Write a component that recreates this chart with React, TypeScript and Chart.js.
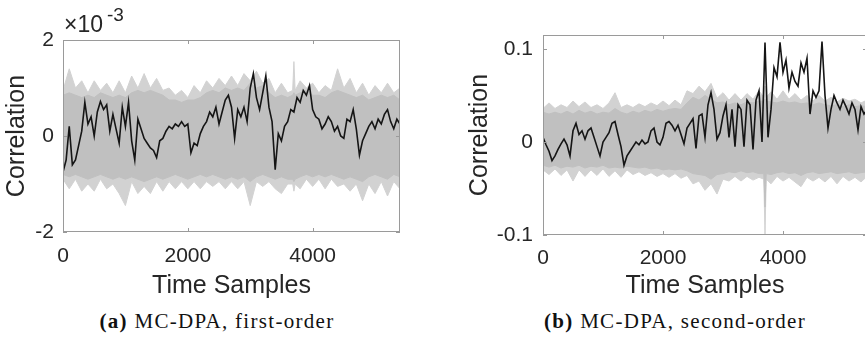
import React, { useEffect, useRef } from "react";
import { Chart, registerables } from "chart.js";

Chart.register(...registerables);

// ---------- data ----------
const timeTicks = [0, 2000, 4000];
const timeTickLabels = ["0", "2000", "4000"];

const bandTime = [
  0, 100, 200, 300, 400, 500, 600, 700, 800, 900,
  1000, 1100, 1200, 1300, 1400, 1500, 1600, 1700, 1800, 1900,
  2000, 2100, 2200, 2300, 2400, 2500, 2600, 2700, 2800, 2900,
  3000, 3100, 3200, 3300, 3400, 3500, 3600,
  3680, 3700, 3720,
  3800, 3900, 4000, 4100, 4200, 4300, 4400, 4500, 4600, 4700,
  4800, 4900, 5000, 5100, 5200, 5300, 5400,
];

const traceTime = [
  0, 50, 100, 150, 200, 250, 300, 350, 400, 450,
  500, 550, 600, 650, 700, 750, 800, 850, 900, 950,
  1000, 1050, 1100, 1150, 1200, 1250, 1300, 1350, 1400, 1450,
  1500, 1550, 1600, 1650, 1700, 1750, 1800, 1850, 1900, 1950,
  2000, 2050, 2100, 2150, 2200, 2250, 2300, 2350, 2400, 2450,
  2500, 2550, 2600, 2650, 2700, 2750, 2800, 2850, 2900, 2950,
  3000, 3050, 3100, 3150, 3200, 3250, 3300, 3350, 3400, 3450,
  3500, 3550, 3600, 3650, 3700, 3750, 3800, 3850, 3900, 3950,
  4000, 4050, 4100, 4150, 4200, 4250, 4300, 4350, 4400, 4450,
  4500, 4550, 4600, 4650, 4700, 4750, 4800, 4850, 4900, 4950,
  5000, 5050, 5100, 5150, 5200, 5250, 5300, 5350, 5400,
];

// (a) first-order, values in units of 1e-3
const firstYTicks = [-2, 0, 2];
const firstYTickLabels = ["-2", "0", "2"];

const firstOuterUpper = [
  0.95, 1.4, 1.0, 1.15, 0.9, 1.15, 0.95, 1.1, 0.9, 1.15,
  0.9, 1.25, 1.0, 1.3, 1.0, 1.2, 0.95, 1.0, 0.85, 0.95,
  0.8, 1.05, 0.9, 1.15, 1.0, 1.2, 1.05, 1.25, 1.05, 1.3,
  1.15, 1.35, 1.1, 1.2, 0.9, 1.1, 0.9,
  0.95, 1.55, 0.95,
  1.15, 1.0, 1.1, 0.9, 1.05, 0.95, 1.4, 1.0, 1.2, 0.9,
  1.1, 0.85, 1.05, 0.9, 1.1, 0.9, 1.0,
];
const firstInnerUpper = [
  0.85, 0.9, 0.85, 0.8, 0.85, 0.8, 0.9, 0.85, 0.8, 0.85,
  0.8, 0.9, 0.95, 0.9, 0.95, 0.9, 0.85, 0.75, 0.75, 0.7,
  0.75, 0.75, 0.8, 0.9, 0.95, 0.9, 1.0, 0.95, 1.0, 0.95,
  1.1, 1.0, 1.05, 0.9, 0.8, 0.85, 0.8,
  0.85, 0.9, 0.85,
  0.9, 0.95, 0.85, 0.85, 0.8, 0.9, 0.95, 0.9, 0.85, 0.8,
  0.85, 0.75, 0.8, 0.85, 0.8, 0.85, 0.75,
];
const firstInnerLower = [
  -0.8, -0.85, -0.8, -0.85, -0.9, -0.85, -0.8, -0.85, -0.9, -0.85,
  -0.9, -0.85, -0.9, -0.95, -0.9, -0.85, -0.9, -0.85, -0.8, -0.85,
  -0.9, -0.85, -0.8, -0.85, -0.8, -0.85, -0.9, -0.85, -0.9, -0.85,
  -0.95, -0.85, -0.8, -0.85, -0.9, -0.85, -0.9,
  -0.9, -0.95, -0.9,
  -0.85, -0.8, -0.85, -0.8, -0.85, -0.8, -0.85, -0.9, -0.85, -0.9,
  -0.95, -0.85, -0.8, -0.85, -0.9, -0.8, -0.85,
];
const firstOuterLower = [
  -0.9, -1.1, -0.9, -1.15, -1.0, -1.15, -0.9, -1.1, -1.0, -1.2,
  -1.45, -0.95, -1.2, -1.05, -1.2, -0.95, -1.15, -0.95, -1.1, -0.95,
  -1.1, -0.95, -1.1, -0.95, -1.05, -0.95, -1.1, -0.95, -1.1, -0.95,
  -1.45, -0.95, -1.05, -0.95, -1.1, -1.2, -1.0,
  -1.0, -1.15, -1.0,
  -1.1, -0.9, -1.05, -0.9, -1.1, -0.9, -1.05, -1.0, -1.15, -1.0,
  -1.35, -1.0, -1.2, -0.95, -1.25, -0.95, -1.1,
];
const firstTrace = [
  -0.75, -0.5, 0.2, -0.6, -0.5, -0.2, 0.1, 0.7, 0.25, 0.4,
  0.0, 0.5, 0.72, 0.55, 0.65, 0.1, 0.45, 0.15, -0.15, 0.6,
  0.2, 0.7, -0.1, -0.5, 0.35, 0.15, -0.05, -0.15, -0.25, -0.3,
  -0.45, -0.1, -0.05, 0.1, 0.2, 0.15, 0.25, 0.2, 0.3, 0.2,
  0.25, -0.35, -0.15, -0.2, 0.05, 0.2, 0.3, 0.5, 0.4, 0.6,
  0.25, 0.5, 0.75, 0.85, 0.6, -0.05, 0.55, 0.4, 0.6, 0.3,
  1.0, 1.3, 0.8, 0.55, 0.9, 1.25, 0.6, 0.3, -0.7, 0.05,
  -0.1, 0.2, 0.3, 0.55, 0.5, 0.8, 0.7, 0.95, 0.85, 1.05,
  0.55, 0.4, 0.35, 0.15, 0.25, 0.4, 0.3, 0.1, 0.2, 0.0,
  -0.05, 0.35, 0.3, 0.55, 0.15, -0.4, -0.1, 0.05, 0.2, 0.3,
  0.15, 0.35, 0.25, 0.45, 0.55, 0.3, 0.15, 0.35, 0.25,
];

// (b) second-order
const secondYTicks = [-0.1, 0, 0.1];
const secondYTickLabels = ["-0.1", "0", "0.1"];

const secondOuterUpper = [
  0.036, 0.042, 0.036, 0.04, 0.037, 0.044, 0.038, 0.043, 0.037, 0.04,
  0.036, 0.042, 0.053, 0.037, 0.04, 0.037, 0.041, 0.038, 0.042, 0.039,
  0.044, 0.039, 0.045, 0.04, 0.055, 0.052, 0.06, 0.054, 0.063, 0.047,
  0.053, 0.045, 0.052, 0.045, 0.052, 0.046, 0.055,
  0.048, 0.06, 0.048,
  0.054, 0.046, 0.055, 0.046, 0.052, 0.045, 0.05, 0.044, 0.05, 0.044,
  0.048, 0.043, 0.047, 0.044, 0.046, 0.042, 0.045,
];
const secondInnerUpper = [
  0.032, 0.03, 0.032, 0.03, 0.033, 0.03, 0.034, 0.031, 0.033, 0.03,
  0.032, 0.031, 0.036, 0.032, 0.03, 0.033, 0.031, 0.034, 0.032, 0.035,
  0.033, 0.035, 0.036, 0.035, 0.042, 0.048, 0.045, 0.05, 0.046, 0.042,
  0.043, 0.04, 0.042, 0.04, 0.043, 0.042, 0.044,
  0.044, 0.046, 0.044,
  0.043, 0.042, 0.044, 0.042, 0.043, 0.041, 0.042, 0.04, 0.042, 0.04,
  0.039, 0.04, 0.038, 0.04, 0.038, 0.039, 0.038,
];
const secondInnerLower = [
  -0.025, -0.027, -0.025, -0.028, -0.026, -0.027, -0.025, -0.028, -0.026, -0.027,
  -0.025, -0.028, -0.027, -0.028, -0.026, -0.027, -0.028, -0.027, -0.029, -0.028,
  -0.03, -0.029, -0.03, -0.029, -0.031, -0.034, -0.035, -0.036, -0.04, -0.035,
  -0.034, -0.032, -0.033, -0.031, -0.033, -0.032, -0.034,
  -0.034, -0.07, -0.034,
  -0.035, -0.033, -0.032, -0.034, -0.033, -0.036, -0.033, -0.032, -0.034, -0.033,
  -0.032, -0.034, -0.033, -0.032, -0.034, -0.033, -0.032,
];
const secondOuterLower = [
  -0.03, -0.035, -0.029, -0.036, -0.03, -0.042, -0.03, -0.037, -0.03, -0.036,
  -0.029, -0.037, -0.031, -0.038, -0.03, -0.035, -0.032, -0.036, -0.033, -0.037,
  -0.034, -0.038, -0.034, -0.039, -0.036, -0.045, -0.042, -0.052, -0.045, -0.056,
  -0.04, -0.042, -0.037, -0.042, -0.037, -0.041, -0.038,
  -0.04, -0.1, -0.04,
  -0.045, -0.037, -0.042, -0.038, -0.043, -0.048, -0.038, -0.042, -0.038, -0.043,
  -0.037, -0.045, -0.037, -0.042, -0.038, -0.043, -0.037,
];
const secondTrace = [
  0.005, -0.003, -0.01, -0.02, -0.015, -0.008, -0.002, 0.003, -0.003, -0.015,
  0.012, 0.02, 0.008, 0.012, 0.003, 0.012, 0.015, 0.005, -0.005, -0.015,
  0.0, 0.005, 0.01, 0.02, 0.022, 0.008, -0.005, -0.025, -0.015, -0.01,
  -0.005, 0.0, -0.003, 0.002, -0.002, 0.0, 0.012, 0.015, 0.0, -0.003,
  0.005, 0.02, 0.022, 0.018, 0.012, 0.018, 0.008, -0.002, 0.015, 0.02,
  0.025, -0.007, 0.028, 0.03, 0.005, 0.04, 0.053, 0.035, 0.003, 0.01,
  0.028, 0.04, 0.005, 0.035, -0.005, 0.04, 0.035, -0.005, 0.045, 0.04,
  -0.008, 0.045, 0.055, 0.0, 0.107, 0.005, 0.035, 0.08, 0.07, 0.107,
  0.075, 0.088, 0.058, 0.075, 0.065, 0.06, 0.085, 0.075, 0.09, 0.03,
  0.055, 0.048, 0.055, 0.108, 0.05, 0.015, 0.035, 0.05, 0.042, 0.035,
  0.045, 0.038, 0.03, 0.042, 0.035, 0.013, 0.038, 0.03, 0.035,
];

// ---------- styling ----------
const SANS = "'Liberation Sans', Arial, Helvetica, sans-serif";
const SERIF = "'Liberation Serif', 'Times New Roman', serif";
const TEXT = "#262626";
const AXIS = "#9a9a9a";
const DENSE = "#c0c0c0";
const LIGHT = "#d2d2d2";

const pts = (xs: number[], ys: number[]) => xs.map((x, i) => ({ x, y: ys[i] }));

const framePlugin = {
  id: "frame",
  afterDatasetsDraw(chart: any) {
    const { ctx, chartArea, scales } = chart;
    const { left, top, right, bottom } = chartArea;
    const x = scales.x;
    const y = scales.y;
    ctx.save();
    ctx.strokeStyle = AXIS;
    ctx.lineWidth = 1;
    ctx.strokeRect(Math.round(left) + 0.5, Math.round(top) + 0.5, Math.round(right - left) - 1, Math.round(bottom - top) - 1);
    ctx.beginPath();
    for (const t of x.ticks) {
      const px = Math.round(x.getPixelForValue(t.value)) + 0.5;
      ctx.moveTo(px, bottom);
      ctx.lineTo(px, bottom - 4);
      ctx.moveTo(px, top);
      ctx.lineTo(px, top + 4);
    }
    for (const t of y.ticks) {
      const py = Math.round(y.getPixelForValue(t.value)) + 0.5;
      ctx.moveTo(left, py);
      ctx.lineTo(left + 4, py);
      ctx.moveTo(right, py);
      ctx.lineTo(right - 4, py);
    }
    ctx.stroke();
    ctx.restore();
  },
};

type Cfg = {
  outerUpper: number[];
  innerUpper: number[];
  innerLower: number[];
  outerLower: number[];
  trace: number[];
  yMin: number;
  yMax: number;
  yTicks: number[];
  yLabels: string[];
  padRight: number;
  padTop: number;
  yWidth: number;
  xHeight: number;
  xTickPad: number;
  yTickPad: number;
  yTitlePad: number;
};

function buildConfig(c: Cfg): any {
  return {
    type: "line",
    data: {
      datasets: [
        {
          data: pts(traceTime, c.trace),
          borderColor: "#151515",
          borderWidth: 1.6,
          fill: false,
        },
        {
          data: pts(bandTime, c.innerUpper),
          borderColor: DENSE,
          backgroundColor: DENSE,
          borderWidth: 1,
          fill: "+1",
        },
        {
          data: pts(bandTime, c.innerLower),
          borderColor: DENSE,
          borderWidth: 1,
          fill: false,
        },
        {
          data: pts(bandTime, c.outerUpper),
          borderColor: LIGHT,
          backgroundColor: LIGHT,
          borderWidth: 1,
          fill: "+1",
        },
        {
          data: pts(bandTime, c.outerLower),
          borderColor: LIGHT,
          borderWidth: 1,
          fill: false,
        },
      ],
    },
    options: {
      responsive: false,
      animation: false,
      events: [],
      layout: { padding: { left: 0, right: c.padRight, top: c.padTop, bottom: 0 } },
      elements: { point: { radius: 0 }, line: { tension: 0 } },
      plugins: { legend: { display: false }, tooltip: { enabled: false } },
      scales: {
        x: {
          type: "linear",
          min: 0,
          max: 5400,
          grid: { display: false, drawTicks: false },
          border: { display: false },
          afterBuildTicks: (s: any) => {
            s.ticks = timeTicks.map((v) => ({ value: v }));
          },
          afterFit: (s: any) => {
            s.height = c.xHeight;
          },
          ticks: {
            padding: c.xTickPad,
            maxRotation: 0,
            autoSkip: false,
            color: TEXT,
            font: { family: SANS, size: 21 },
            callback: (v: number) => timeTickLabels[timeTicks.indexOf(v)] ?? "",
          },
          title: {
            display: true,
            text: "Time Samples",
            color: TEXT,
            font: { family: SANS, size: 25 },
            padding: { top: 0, bottom: 1 },
          },
        },
        y: {
          type: "linear",
          min: c.yMin,
          max: c.yMax,
          grid: { display: false, drawTicks: false },
          border: { display: false },
          afterBuildTicks: (s: any) => {
            s.ticks = c.yTicks.map((v) => ({ value: v }));
          },
          afterFit: (s: any) => {
            s.width = c.yWidth;
          },
          ticks: {
            padding: c.yTickPad,
            autoSkip: false,
            color: TEXT,
            font: { family: SANS, size: 21 },
            callback: (v: number) => c.yLabels[c.yTicks.indexOf(v)] ?? "",
          },
          title: {
            display: true,
            text: "Correlation",
            color: TEXT,
            font: { family: SANS, size: 25 },
            padding: { top: c.yTitlePad, bottom: 0 },
          },
        },
      },
    },
    plugins: [framePlugin],
  };
}

export default function App() {
  const leftRef = useRef<HTMLCanvasElement>(null);
  const rightRef = useRef<HTMLCanvasElement>(null);

  useEffect(() => {
    const a = new Chart(
      leftRef.current as HTMLCanvasElement,
      buildConfig({
        outerUpper: firstOuterUpper,
        innerUpper: firstInnerUpper,
        innerLower: firstInnerLower,
        outerLower: firstOuterLower,
        trace: firstTrace,
        yMin: -2,
        yMax: 2,
        yTicks: firstYTicks,
        yLabels: firstYTickLabels,
        padRight: 30,
        padTop: 40,
        yWidth: 63,
        xHeight: 70,
        xTickPad: 12,
        yTickPad: 9,
        yTitlePad: 2,
      })
    );
    const b = new Chart(
      rightRef.current as HTMLCanvasElement,
      buildConfig({
        outerUpper: secondOuterUpper,
        innerUpper: secondInnerUpper,
        innerLower: secondInnerLower,
        outerLower: secondOuterLower,
        trace: secondTrace,
        yMin: -0.1,
        yMax: 0.115,
        yTicks: secondYTicks,
        yLabels: secondYTickLabels,
        padRight: 5,
        padTop: 35,
        yWidth: 103,
        xHeight: 67,
        xTickPad: 11,
        yTickPad: 10,
        yTitlePad: 25,
      })
    );
    return () => {
      a.destroy();
      b.destroy();
    };
  }, []);

  const caption: React.CSSProperties = {
    position: "absolute",
    top: 311,
    fontFamily: SERIF,
    fontSize: 21,
    letterSpacing: "1.3px",
    lineHeight: "20px",
    color: "#111",
    whiteSpace: "nowrap",
    transform: "translateX(-50%)",
  };

  return (
    <div
      style={{
        position: "absolute",
        left: 0,
        top: 0,
        width: 865,
        height: 339,
        overflow: "hidden",
        background: "#ffffff",
      }}
    >
      <canvas ref={leftRef} width={430} height={302} style={{ position: "absolute", left: 0, top: 0 }} />
      <canvas ref={rightRef} width={432} height={302} style={{ position: "absolute", left: 440, top: 0 }} />
      <div
        style={{
          position: "absolute",
          left: 64,
          top: 13,
          fontFamily: SANS,
          fontSize: 23,
          lineHeight: "23px",
          color: TEXT,
          whiteSpace: "nowrap",
        }}
      >
        ×10
      </div>
      <div
        style={{
          position: "absolute",
          left: 107,
          top: 5,
          fontFamily: SANS,
          fontSize: 19,
          lineHeight: "19px",
          color: TEXT,
          whiteSpace: "nowrap",
        }}
      >
        -3
      </div>
      <div style={{ ...caption, left: 217 }}>
        <b>(a)</b> MC-DPA, first-order
      </div>
      <div style={{ ...caption, left: 675 }}>
        <b>(b)</b> MC-DPA, second-order
      </div>
    </div>
  );
}
